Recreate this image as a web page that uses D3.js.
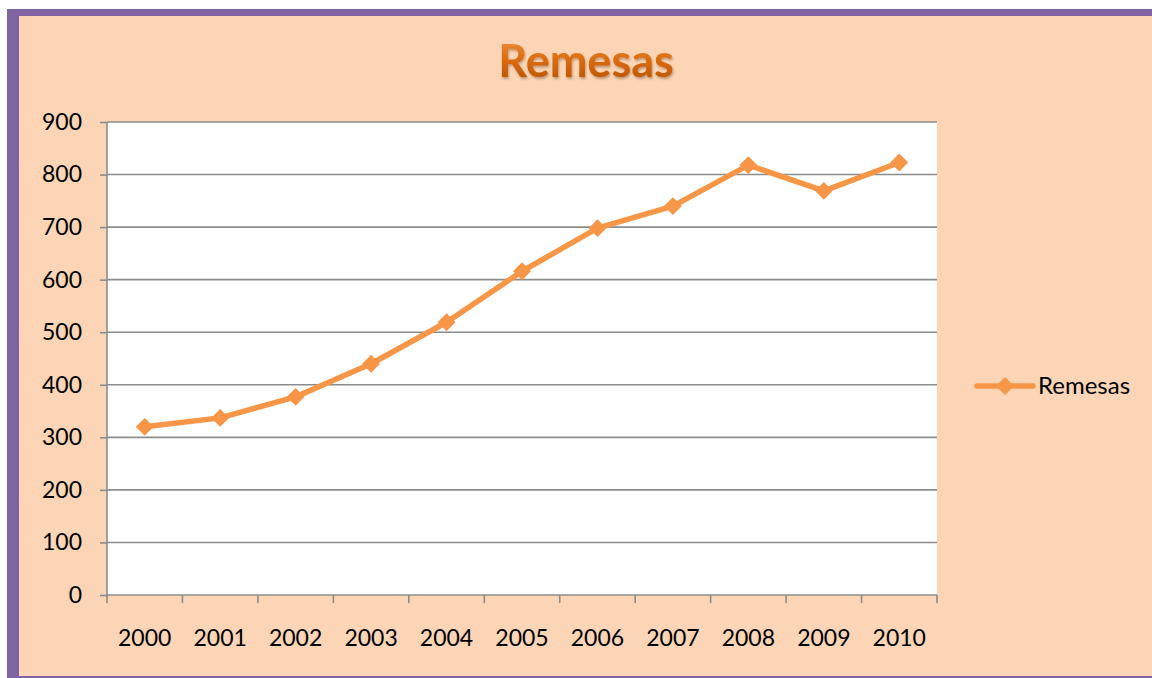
<!DOCTYPE html>
<html>
<head>
<meta charset="utf-8">
<script src="https://cdn.jsdelivr.net/npm/d3@7"></script>
<style>
  body { margin: 0; background: #ffffff; }
  #chart text { font-family: Lato, "Open Sans", sans-serif; }
</style>
</head>
<body>
<div id="chart"></div>
<script>
// data
var years = ["2000", "2001", "2002", "2003", "2004", "2005", "2006", "2007", "2008", "2009", "2010"];
var remesas = [320, 337, 377, 440, 519, 616, 698, 740, 818, 769, 823];
var yTicks = [0, 100, 200, 300, 400, 500, 600, 700, 800, 900];
var seriesName = "Remesas";
var chartTitle = "Remesas";

var W = 1152, H = 678;
var plot = { left: 107, top: 122, right: 937, bottom: 595 };
var orange = "#F79646";

var svg = d3.select("#chart")
  .append("svg")
  .attr("width", W)
  .attr("height", H);

var defs = svg.append("defs");
var grad = defs.append("linearGradient")
  .attr("id", "titleGrad")
  .attr("x1", 0).attr("y1", 0).attr("x2", 0).attr("y2", 1);
grad.append("stop").attr("offset", "0%").attr("stop-color", "#F39A4A");
grad.append("stop").attr("offset", "50%").attr("stop-color", "#DC6A0C");
grad.append("stop").attr("offset", "100%").attr("stop-color", "#B04F00");

var shadow = defs.append("filter").attr("id", "shadow")
  .attr("x", "-10%").attr("y", "-10%").attr("width", "120%").attr("height", "130%");
shadow.append("feDropShadow")
  .attr("dx", 1).attr("dy", 2).attr("stdDeviation", 1.2)
  .attr("flood-color", "#7a4a20").attr("flood-opacity", 0.45);

// frame: purple border + peach background
svg.append("rect")
  .attr("x", 7).attr("y", 9).attr("width", W - 7).attr("height", H - 9)
  .attr("fill", "#8064A2");
svg.append("rect")
  .attr("x", 19).attr("y", 16).attr("width", W - 19).attr("height", 660)
  .attr("fill", "#FBD5B5");

// plot area
svg.append("rect")
  .attr("x", plot.left).attr("y", plot.top)
  .attr("width", plot.right - plot.left).attr("height", plot.bottom - plot.top)
  .attr("fill", "#ffffff");

var x = d3.scaleBand()
  .domain(years)
  .range([plot.left, plot.right])
  .paddingInner(0)
  .paddingOuter(0);

var y = d3.scaleLinear()
  .domain([0, 900])
  .range([plot.bottom, plot.top]);

// gridlines
svg.append("g")
  .selectAll("line")
  .data(yTicks.slice(1))
  .enter().append("line")
  .attr("x1", plot.left).attr("x2", plot.right)
  .attr("y1", function(d) { return y(d); })
  .attr("y2", function(d) { return y(d); })
  .attr("stroke", "#8c8c8c")
  .attr("stroke-width", 1.6);

// y axis
var yAxis = svg.append("g")
  .attr("transform", "translate(" + plot.left + ",0)")
  .call(d3.axisLeft(y).tickValues(yTicks).tickSize(7).tickPadding(18));
yAxis.selectAll("line").attr("stroke", "#8c8c8c").attr("stroke-width", 1.6);
yAxis.select(".domain").attr("stroke", "#8c8c8c").attr("stroke-width", 1.6)
  .attr("d", "M0," + plot.bottom + "V" + plot.top);
yAxis.selectAll("text")
  .attr("fill", "#000")
  .style("font-size", "23px");

// x axis: ticks at band boundaries
var xAxis = svg.append("g")
  .attr("transform", "translate(0," + plot.bottom + ")");
xAxis.append("line")
  .attr("x1", plot.left).attr("x2", plot.right)
  .attr("stroke", "#8c8c8c").attr("stroke-width", 1.6);
var bounds = years.map(function(d) { return x(d); }).concat([x(years[years.length - 1]) + x.bandwidth()]);
xAxis.selectAll(".tk")
  .data(bounds)
  .enter().append("line")
  .attr("class", "tk")
  .attr("x1", function(d) { return d; }).attr("x2", function(d) { return d; })
  .attr("y1", 0).attr("y2", 8)
  .attr("stroke", "#8c8c8c").attr("stroke-width", 1.6);
xAxis.selectAll(".lbl")
  .data(years)
  .enter().append("text")
  .attr("class", "lbl")
  .attr("x", function(d) { return x(d) + x.bandwidth() / 2; })
  .attr("y", 51)
  .attr("text-anchor", "middle")
  .style("font-size", "23px")
  .attr("fill", "#000")
  .text(function(d) { return d; });

// line
var line = d3.line()
  .x(function(d, i) { return x(years[i]) + x.bandwidth() / 2; })
  .y(function(d) { return y(d); });

svg.append("path")
  .datum(remesas)
  .attr("d", line)
  .attr("fill", "none")
  .attr("stroke", orange)
  .attr("stroke-width", 5.5)
  .attr("stroke-linejoin", "round")
  .attr("stroke-linecap", "round");

var diamond = d3.symbol().type(d3.symbolSquare).size(160);
svg.append("g")
  .selectAll("path")
  .data(remesas)
  .enter().append("path")
  .attr("d", diamond)
  .attr("transform", function(d, i) {
    return "translate(" + (x(years[i]) + x.bandwidth() / 2) + "," + y(d) + ") rotate(45)";
  })
  .attr("fill", orange);

// legend
var lg = svg.append("g").attr("transform", "translate(977,386)");
lg.append("line")
  .attr("x1", 0).attr("x2", 56)
  .attr("stroke", orange).attr("stroke-width", 5.5).attr("stroke-linecap", "round");
lg.append("path")
  .attr("d", diamond)
  .attr("transform", "translate(28,0) rotate(45)")
  .attr("fill", orange);
lg.append("text")
  .attr("x", 61).attr("y", 8)
  .style("font-size", "24px")
  .attr("fill", "#000")
  .text(seriesName);

// title
svg.append("text")
  .attr("x", 586).attr("y", 77)
  .attr("text-anchor", "middle")
  .style("font-size", "45px")
  .style("font-weight", "bold")
  .attr("fill", "url(#titleGrad)")
  .attr("filter", "url(#shadow)")
  .text(chartTitle);
</script>
</body>
</html>
